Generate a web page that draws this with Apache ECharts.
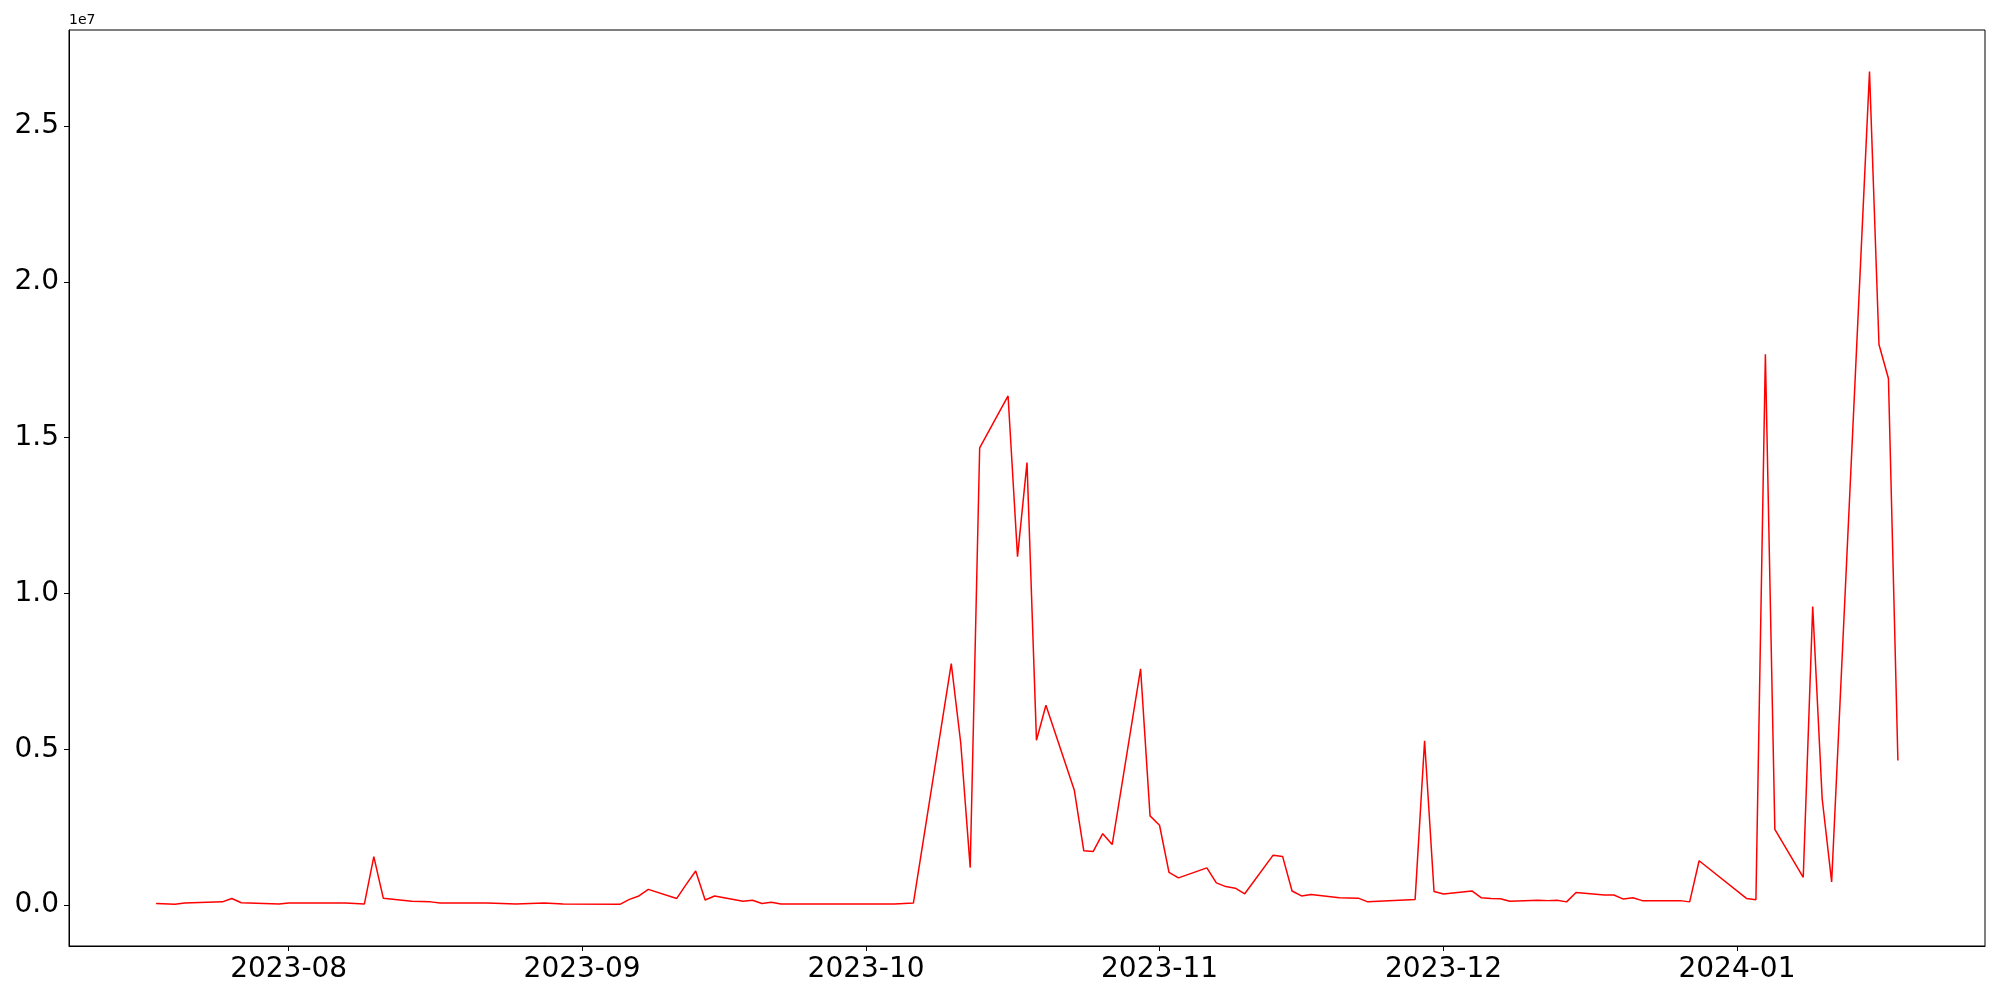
<!DOCTYPE html>
<html>
<head>
<meta charset="utf-8">
<script src="https://cdn.jsdelivr.net/npm/echarts@6/dist/echarts.min.js"></script>
<style>
  html, body { margin: 0; padding: 0; background: #fff; }
  #chart { width: 2000px; height: 1000px; }
</style>
</head>
<body>
<div id="chart"></div>
<script>
// ---- data (values in millions) ----
const dates = [
  '2023-07-18','2023-07-20','2023-07-21','2023-07-25','2023-07-26','2023-07-27','2023-07-31',
  '2023-08-01','2023-08-07','2023-08-09','2023-08-10','2023-08-11','2023-08-14','2023-08-16',
  '2023-08-17','2023-08-22','2023-08-25','2023-08-28','2023-08-30',
  '2023-09-05','2023-09-06','2023-09-07','2023-09-08','2023-09-11','2023-09-12','2023-09-13',
  '2023-09-14','2023-09-15','2023-09-18','2023-09-19','2023-09-20','2023-09-21','2023-09-22',
  '2023-10-04','2023-10-06','2023-10-10','2023-10-11','2023-10-12','2023-10-13','2023-10-16',
  '2023-10-17','2023-10-18','2023-10-19','2023-10-20','2023-10-23','2023-10-24','2023-10-25',
  '2023-10-26','2023-10-27','2023-10-30','2023-10-31',
  '2023-11-01','2023-11-02','2023-11-03','2023-11-06','2023-11-07','2023-11-08','2023-11-09',
  '2023-11-10','2023-11-13','2023-11-14','2023-11-15','2023-11-16','2023-11-17','2023-11-20',
  '2023-11-22','2023-11-23','2023-11-28','2023-11-29','2023-11-30',
  '2023-12-01','2023-12-04','2023-12-05','2023-12-06','2023-12-07','2023-12-08','2023-12-11',
  '2023-12-12','2023-12-13','2023-12-14','2023-12-15','2023-12-18','2023-12-19','2023-12-20',
  '2023-12-21','2023-12-22','2023-12-26','2023-12-27','2023-12-28',
  '2024-01-02','2024-01-03','2024-01-04','2024-01-05','2024-01-08','2024-01-09','2024-01-10',
  '2024-01-11','2024-01-15','2024-01-16','2024-01-17','2024-01-18'
];
const valuesM = [
  0.05, 0.02, 0.06, 0.10, 0.21, 0.07, 0.03,
  0.06, 0.06, 0.03, 1.55, 0.22, 0.12, 0.10,
  0.06, 0.06, 0.03, 0.06, 0.03,
  0.02, 0.18, 0.29, 0.50, 0.21, 0.66, 1.09,
  0.16, 0.29, 0.12, 0.15, 0.05, 0.09, 0.03,
  0.03, 0.06, 7.75, 5.20, 1.20, 14.67, 16.34,
  11.18, 14.20, 5.29, 6.41, 3.68, 1.74, 1.72,
  2.29, 1.94, 7.58, 2.86,
  2.56, 1.05, 0.87, 1.19, 0.71, 0.59, 0.54,
  0.36, 1.60, 1.56, 0.45, 0.29, 0.34, 0.23,
  0.22, 0.10, 0.18, 5.27, 0.43,
  0.35, 0.45, 0.23, 0.21, 0.20, 0.12, 0.15,
  0.14, 0.15, 0.10, 0.40, 0.32, 0.32, 0.19,
  0.23, 0.14, 0.14, 0.10, 1.42,
  0.21, 0.17, 17.68, 2.43, 0.89, 9.58, 3.41,
  0.74, 26.75, 17.99, 16.90, 4.64
];
const xTickDates = ['2023-08-01','2023-09-01','2023-10-01','2023-11-01','2023-12-01','2024-01-01'];
const yTickValues = [0, 5e6, 1e7, 1.5e7, 2e7, 2.5e7];
const offsetText = '1e7';

// ---- build ----
const toTs = d => Date.parse(d + 'T00:00:00Z');
const seriesData = dates.map((d, i) => [toTs(d), valuesM[i] * 1e6]);
const xs = seriesData.map(p => p[0]);
const ys = seriesData.map(p => p[1]);
const xMinD = Math.min(...xs), xMaxD = Math.max(...xs);
const yMinD = Math.min(...ys), yMaxD = Math.max(...ys);
const xPad = (xMaxD - xMinD) * 0.05, yPad = (yMaxD - yMinD) * 0.05;
const xTicks = xTickDates.map(toTs);

const FONT = 'DejaVu Sans';
const chart = echarts.init(document.getElementById('chart'), null, { renderer: 'canvas' });
chart.setOption({
  animation: false,
  backgroundColor: '#ffffff',
  grid: {
    left: 69, right: 15, top: 30, bottom: 54,
    show: true, borderColor: '#000', borderWidth: 1, backgroundColor: 'transparent'
  },
  graphic: [{
    type: 'text', left: 69, top: 13,
    style: { text: offsetText, fontSize: 14, fontFamily: FONT, fill: '#000' }
  }],
  xAxis: {
    type: 'value',
    min: xMinD - xPad, max: xMaxD + xPad,
    axisLine: { show: true, onZero: false, lineStyle: { color: '#000', width: 1 } },
    axisTick: { show: true, length: 5, inside: false, customValues: xTicks, lineStyle: { color: '#000', width: 1 } },
    splitLine: { show: false },
    axisLabel: {
      customValues: xTicks, margin: 10, fontSize: 28, fontFamily: FONT, color: '#000',
      formatter: v => {
        const d = new Date(v);
        return d.getUTCFullYear() + '-' + String(d.getUTCMonth() + 1).padStart(2, '0');
      }
    }
  },
  yAxis: {
    type: 'value',
    min: yMinD - yPad, max: yMaxD + yPad,
    axisLine: { show: true, onZero: false, lineStyle: { color: '#000', width: 1 } },
    axisTick: { show: true, length: 5, inside: false, customValues: yTickValues, lineStyle: { color: '#000', width: 1 } },
    splitLine: { show: false },
    axisLabel: {
      customValues: yTickValues, margin: 10, fontSize: 28, fontFamily: FONT, color: '#000',
      formatter: v => (v / 1e7).toFixed(1)
    }
  },
  series: [{
    type: 'line',
    data: seriesData,
    showSymbol: false,
    symbol: 'none',
    lineStyle: { color: '#ff0000', width: 1.5 },
    itemStyle: { color: '#ff0000' }
  }]
});
</script>
</body>
</html>
